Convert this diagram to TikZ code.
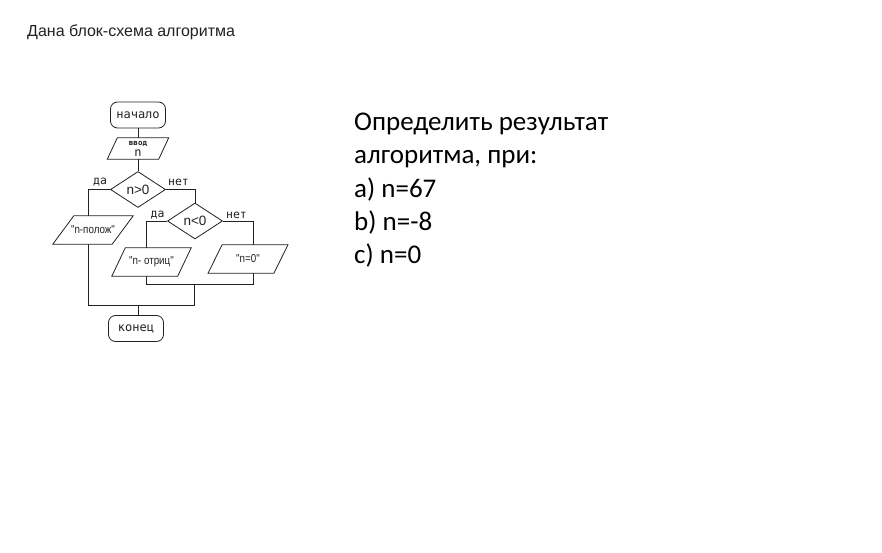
\documentclass[tikz,border=0pt]{standalone}
\usepackage{fontspec}
\setmainfont{Liberation Sans}
\newfontfamily\calfont{Carlito}
\newfontfamily\monofont{DejaVu Sans Mono}
\newfontfamily\narrowfont[FakeStretch=0.85]{Liberation Sans}
\usetikzlibrary{shapes.geometric}
\definecolor{ink}{HTML}{222222}
\tikzset{
  fc/.style={draw=ink, line width=0.8pt, text=ink},
  term/.style={fc, rectangle, rounded corners=7pt, minimum width=55pt, minimum height=26pt, inner sep=0pt, font=\monofont\fontsize{12}{14}\selectfont},
  dec/.style={fc, diamond, minimum width=55pt, minimum height=36pt, inner sep=0pt, font=\fontsize{13.5}{14}\selectfont},
  iobox/.style={rectangle, inner sep=0pt, minimum height=28pt, text=ink, font=\narrowfont\fontsize{11.5}{12}\selectfont},
  lab/.style={text=ink, font=\monofont\fontsize{11.5}{13}\selectfont, inner sep=0pt},
  conn/.style={draw=ink, line width=0.8pt},
  bigtxt/.style={anchor=base west, inner sep=0pt, text=black, font=\calfont\fontsize{27}{33}\selectfont}
}
\newcommand{\paraDraw}[2]{%
  \draw[conn] ([xshift=-#2]#1.south west) -- ([xshift=-#2]#1.south east)
    -- ([xshift=#2]#1.north east) -- ([xshift=#2]#1.north west) -- cycle;}
\begin{document}
\begin{tikzpicture}[x=1pt,y=1pt]
\useasboundingbox[fill=white] (0,0) rectangle (882,-553);
\node[anchor=base west, inner sep=0pt, text=ink, font=\fontsize{16}{18}\selectfont] (title) at (27,-37) {Дана блок-схема алгоритма};

\node[term] (start) at (138,-115) {начало};
\node[iobox, minimum width=51pt, minimum height=21pt] (inp) at (138,-148.5) {};
\paraDraw{inp}{5pt}
\node[text=ink, inner sep=0pt, font=\monofont\bfseries\fontsize{7.5}{8}\selectfont] (inpt1) at (138,-143.5) {ввод};
\node[text=ink, inner sep=0pt, font=\monofont\fontsize{12}{12}\selectfont] (inpt2) at (138,-153.5) {n};
\node[dec] (d1) at (138,-189.5) {n>0};
\node[iobox, minimum width=59pt] (pol) at (93,-230) {"n-полож"};
\paraDraw{pol}{10.5pt}
\node[dec] (d2) at (195,-221) {n<0};
\node[iobox, minimum width=65.5pt] (otr) at (151.5,-262) {"n- отриц"};
\paraDraw{otr}{6.75pt}
\node[iobox, minimum width=65.5pt] (zero) at (248,-259) {"n=0"};
\paraDraw{zero}{7pt}
\node[term] (end) at (136,-328.5) {конец};

\node[lab] (l1) at (100,-182) {да};
\node[lab] (l2) at (178.5,-182) {нет};
\node[lab] (l3) at (157.5,-215) {да};
\node[lab] (l4) at (236.5,-215) {нет};

\coordinate (cL) at (88,-305);
\coordinate (cR) at (194,-305);
\coordinate (cM) at (194,-284);
\coordinate (b1) at (146,-284);
\coordinate (b2) at (253,-284);
\coordinate (cE) at (138,-305);

\draw[conn] (start.south) -- (inp.north);
\draw[conn] (inp.south) -- (d1.north);
\draw[conn] (d1.west) -| (pol.north -| cL);
\draw[conn] (pol.south -| cL) -- (cL) -- (cR) -- (cM);
\draw[conn] (d1.east) -| (d2.north);
\draw[conn] (d2.west) -| (otr.north -| b1);
\draw[conn] (d2.east) -| (zero.north -| b2);
\draw[conn] (otr.south -| b1) -- (b1) -- (b2) -- (zero.south -| b2);
\draw[conn] (cE) -- (cE |- end.north);

\node[bigtxt] (t1) at (354,-131) {Определить результат};
\node[bigtxt] (t2) at (354,-164) {алгоритма, при:};
\node[bigtxt] (t3) at (354,-197) {a) n=67};
\node[bigtxt] (t4) at (354,-230) {b) n=-8};
\node[bigtxt] (t5) at (354,-263) {c) n=0};
\end{tikzpicture}
\end{document}
